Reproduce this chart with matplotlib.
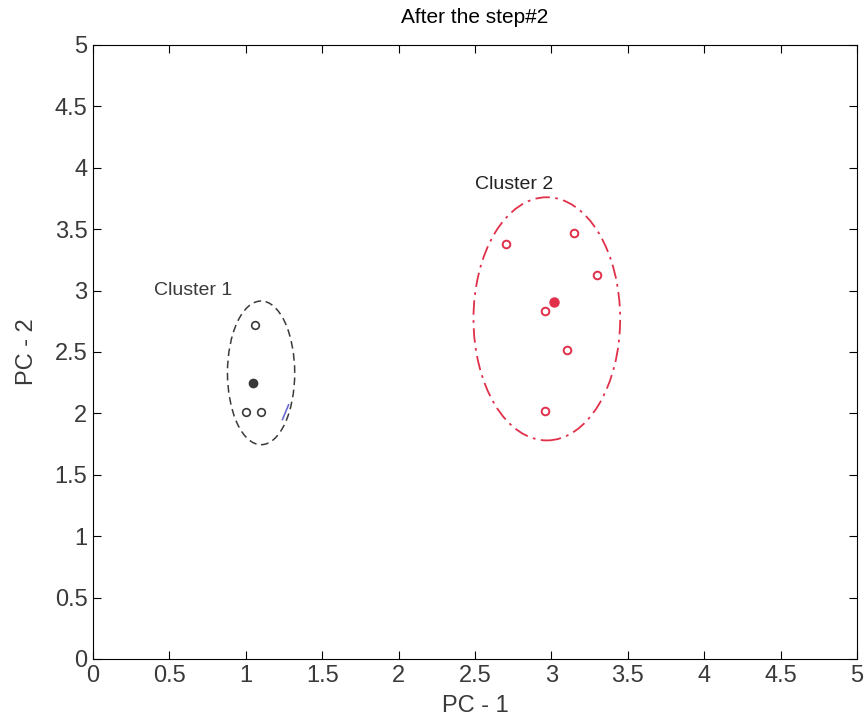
import numpy as np
from matplotlib import pyplot as plt
from matplotlib.patches import Ellipse

plt.rcParams['font.family'] = ['Liberation Sans Narrow', 'Liberation Sans', 'DejaVu Sans']

# cluster 1 members and centroid
c1_x = [1.06, 1.00, 1.10]
c1_y = [2.72, 2.01, 2.01]
c1_cx, c1_cy = 1.05, 2.25

# cluster 2 members and centroid
c2_x = [2.70, 3.15, 3.30, 2.96, 3.10, 2.96]
c2_y = [3.38, 3.47, 3.13, 2.83, 2.52, 2.02]
c2_cx, c2_cy = 3.02, 2.91

# enclosing ellipses: center x, center y, width, height
e1 = (1.10, 2.33, 0.44, 1.17)
e2 = (2.97, 2.77, 0.96, 1.98)

# stray blue segment near cluster 1
blue_x = [1.24, 1.28]
blue_y = [1.95, 2.07]

ticks = [0, 0.5, 1, 1.5, 2, 2.5, 3, 3.5, 4, 4.5, 5]
tick_labels = ['0', '0.5', '1', '1.5', '2', '2.5', '3', '3.5', '4', '4.5', '5']

red = '#e0304a'
grey = '#3a3a3a'

fig = plt.figure(figsize=(8.66, 7.21), dpi=100)
ax = fig.add_axes([0.1074, 0.086, 0.8822, 0.8516])

ax.add_patch(Ellipse((e1[0], e1[1]), e1[2], e1[3], fill=False,
                     edgecolor=grey, linestyle=(0, (5, 3)), linewidth=1.1))
ax.add_patch(Ellipse((e2[0], e2[1]), e2[2], e2[3], fill=False,
                     edgecolor=red, linestyle=(0, (8, 3, 1.5, 3)), linewidth=1.3))
ax.plot(blue_x, blue_y, color='#6a6ad0', linewidth=1.2)

ax.plot(c1_x, c1_y, 'o', mfc='none', mec=grey, ms=5.5, mew=1.2)
ax.plot(c1_cx, c1_cy, 'o', color=grey, ms=6)
ax.plot(c2_x, c2_y, 'o', mfc='none', mec=red, ms=5.5, mew=1.4)
ax.plot(c2_cx, c2_cy, 'o', color=red, ms=6.5)

ax.text(0.40, 3.0, 'Cluster 1', fontsize=14, color=grey, va='center')
ax.text(2.50, 3.86, 'Cluster 2', fontsize=14, color='#222222', va='center')

ax.set_xlim(0, 5)
ax.set_ylim(0, 5)
ax.set_xticks(ticks)
ax.set_xticklabels(tick_labels)
ax.set_yticks(ticks)
ax.set_yticklabels(tick_labels)
ax.tick_params(direction='in', top=True, right=True, labelsize=17, length=6,
               pad=4, labelcolor=grey)
ax.set_xlabel('PC - 1', fontsize=17, labelpad=6, color=grey)
ax.set_ylabel('PC - 2', fontsize=17, labelpad=12, color=grey)
ax.set_title('After the step#2', fontsize=15, pad=16)

fig.savefig('out.png', dpi=100)
